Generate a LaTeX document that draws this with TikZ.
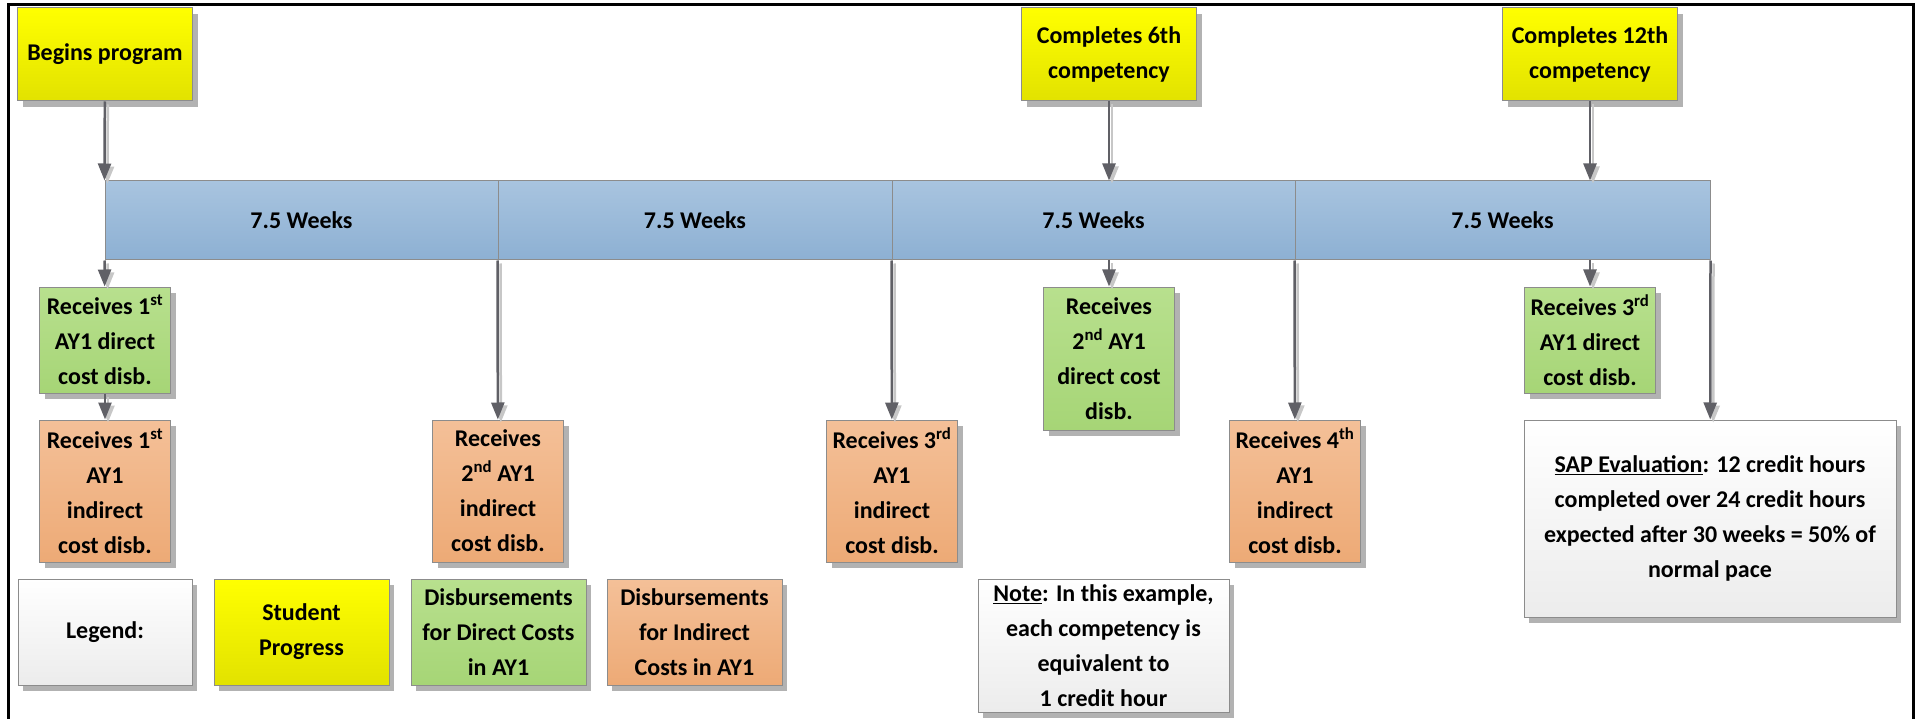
\documentclass[tikz,border=0pt]{standalone}
\usepackage{fontspec}
\setmainfont{Carlito}
\usetikzlibrary{shadows}
\usetikzlibrary{arrows.meta}

\definecolor{progtop}{RGB}{255,255,0}
\definecolor{progbot}{RGB}{226,226,0}
\definecolor{dirtop}{RGB}{184,224,142}
\definecolor{dirbot}{RGB}{166,213,118}
\definecolor{indtop}{RGB}{244,192,152}
\definecolor{indbot}{RGB}{237,170,118}
\definecolor{weektop}{RGB}{168,196,223}
\definecolor{weekbot}{RGB}{141,176,211}
\definecolor{infobot}{RGB}{236,236,236}
\definecolor{linkgray}{RGB}{96,96,102}

\tikzset{
  box/.style={draw=black!45, line width=1pt, align=center, inner sep=1pt,
    drop shadow={shadow xshift=5pt, shadow yshift=-6pt, fill=black!30, opacity=1}},
  prog/.style={box, top color=progtop, bottom color=progbot, minimum width=175pt, minimum height=93pt},
  direct/.style={box, top color=dirtop, bottom color=dirbot, minimum width=131pt},
  indirect/.style={box, top color=indtop, bottom color=indbot, minimum width=131pt, minimum height=142pt},
  info/.style={box, top color=white, bottom color=infobot},
  weeks/.style={draw=black!45, line width=1pt, top color=weektop, bottom color=weekbot, minimum height=79pt},
  lnk/.style={draw=linkgray, line width=2.5pt, -{Triangle[length=17pt,width=13pt]},
    preaction={draw=black!22, line width=2.5pt, -{Triangle[length=17pt,width=13pt]},
      transform canvas={shift={(3pt,-3pt)}}}}
}

\begin{document}
\begin{tikzpicture}[x=1pt,y=-1pt,font=\bfseries\fontsize{24}{35}\selectfont]
\useasboundingbox (0,0) rectangle (1921,719);

% frame
\draw[line width=3pt] (8,719) -- (8,5) -- (1913,5) -- (1913,719);

% the 30 weeks
\begin{scope}[drop shadow={shadow xshift=5pt, shadow yshift=-6pt, fill=black!30, opacity=1}]
\fill (105,181) rectangle (1710,260);
\end{scope}
\node[weeks, minimum width=393pt] (seg1) at (301.5,220.5) {7.5 Weeks};
\node[weeks, minimum width=394pt] (seg2) at (695,220.5) {7.5 Weeks};
\node[weeks, minimum width=403pt] (seg3) at (1093.5,220.5) {7.5 Weeks};
\node[weeks, minimum width=415pt] (seg4) at (1502.5,220.5) {7.5 Weeks};

% student progress
\node[prog] (begin) at (105,54.5) {Begins program};
\node[prog] (comp6) at (1109,54.5) {Completes 6th\\competency};
\node[prog] (comp12) at (1590,54.5) {Completes 12th\\competency};

% direct cost disb.
\node[direct, minimum height=106pt] (dir1) at (105,340) {Receives 1\textsuperscript{st}\\AY1 direct\\cost disb.};
\node[direct, minimum height=143pt] (dir2) at (1109,358.5) {Receives\\2\textsuperscript{nd} AY1\\direct cost\\disb.};
\node[direct, minimum height=106pt] (dir3) at (1590,340) {Receives 3\textsuperscript{rd}\\AY1 direct\\cost disb.};

% indirect cost disb.
\node[indirect] (ind1) at (105,491) {Receives 1\textsuperscript{st}\\AY1\\indirect\\cost disb.};
\node[indirect] (ind2) at (498,491) {Receives\\2\textsuperscript{nd} AY1\\indirect\\cost disb.};
\node[indirect] (ind3) at (892,491) {Receives 3\textsuperscript{rd}\\AY1\\indirect\\cost disb.};
\node[indirect] (ind4) at (1295,491) {Receives 4\textsuperscript{th}\\AY1\\indirect\\cost disb.};

% SAP
\node[info, minimum width=372pt, minimum height=197pt] (sap) at (1710,518.5)
  {\underline{SAP Evaluation}: 12 credit hours\\completed over 24 credit hours\\expected after 30 weeks = 50\% of\\normal pace};

% legend
\node[info, minimum width=174pt, minimum height=106pt] (leg) at (105,632) {Legend:};
\node[prog, minimum width=175pt, minimum height=106pt] (legprog) at (301.5,632) {Student\\Progress};
\node[direct, minimum width=175pt, minimum height=106pt] (legdir) at (498.5,632) {Disbursements\\for Direct Costs\\in AY1};
\node[indirect, minimum width=175pt, minimum height=106pt] (legind) at (694.5,632) {Disbursements\\for Indirect\\Costs in AY1};
\node[info, minimum width=251pt, minimum height=133pt] (note) at (1103.5,645.5)
  {\underline{Note}: In this example,\\each competency is\\equivalent to\\1 credit hour};

% arrows
\draw[lnk] (begin) -- (seg1.north west);
\draw[lnk] (comp6) -- (comp6 |- seg3.north);
\draw[lnk] (comp12) -- (comp12 |- seg4.north);
\draw[lnk] (seg1.south west) -- (dir1);
\draw[lnk] (dir1) -- (ind1);
\draw[lnk] (seg2.south west) -- (ind2);
\draw[lnk] (seg3.south west) -- (ind3);
\draw[lnk] (seg4.south west) -- (ind4);
\draw[lnk] (dir2 |- seg3.south) -- (dir2);
\draw[lnk] (dir3 |- seg4.south) -- (dir3);
\draw[lnk] (seg4.south east) -- (sap);

\end{tikzpicture}
\end{document}
